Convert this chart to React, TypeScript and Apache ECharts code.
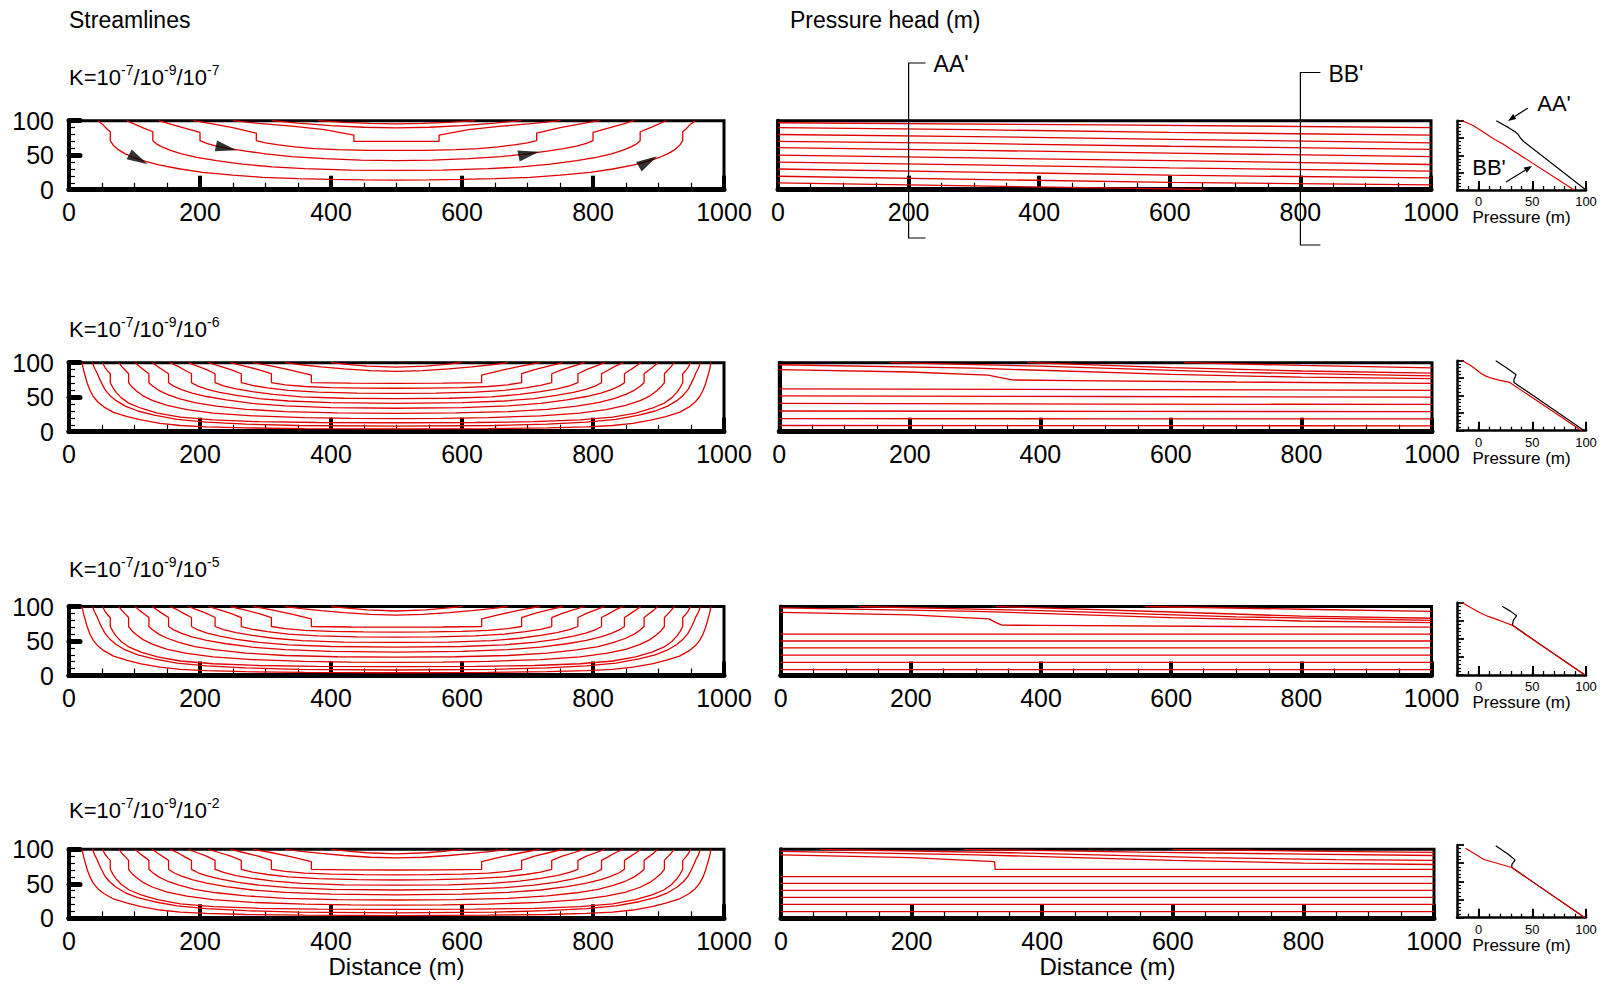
import React, { useEffect, useRef } from 'react';
import * as echarts from 'echarts';

const FONT = '"Liberation Sans", Arial, Helvetica, sans-serif';
const RED = '#e00000';

// ---------- axis ticks / labels ----------
const DIST_TICKS = [0, 200, 400, 600, 800, 1000];
const DEPTH_TICKS = [0, 50, 100];
const PROFILE_X_RANGE = [-20, 100];
const PROFILE_X_LABELS = [0, 50, 100];
const PROFILE_Y_TICKS = [0, 25, 50, 75, 100];
const K_EXPONENTS = [
  ['-7', '-9', '-7'],
  ['-7', '-9', '-6'],
  ['-7', '-9', '-5'],
  ['-7', '-9', '-2'],
];
const SECTION_X = [200, 800];
const SECTION_NAMES = ["AA'", "BB'"];

// ---------- streamlines, row 1 (K=1e-7/1e-9/1e-7) ----------
const STREAM_ROW1: number[][][] = [
  [[44,100],[52,94],[58,88],[63,84],[63,71],[68,64],[75,58],[86,52],[98,47],[117,41],[137,36],[170,30],[204,25],[250,21],[296,18],[350,16],[400,15],[450,14.3],[500,14],[550,14.3],[600,15],[650,16],[704,18],[750,21],[796,25],[830,30],[863,36],[883,41],[902,47],[914,52],[925,58],[932,64],[937,71],[937,84],[942,88],[948,94],[956,100]],
  [[88,100],[100,95],[115,89],[128,84],[128,71],[134,66],[142,62],[155,57],[172,52],[195,47],[225,42],[265,37],[310,33],[360,30.5],[430,28.5],[500,28],[570,28.5],[640,30.5],[690,33],[735,37],[775,42],[805,47],[828,52],[845,57],[858,62],[866,66],[872,71],[872,84],[885,89],[900,95],[912,100]],
  [[137,100],[155,95],[178,89],[200,83],[200,71],[210,67],[225,63],[245,59.5],[270,56],[300,52],[340,48],[390,45],[445,43],[500,42],[555,43],[610,45],[660,48],[700,52],[730,56],[755,59.5],[775,63],[790,67],[800,71],[800,83],[822,89],[845,95],[863,100]],
  [[190,100],[215,96],[250,90],[286,82],[286,71],[300,68],[320,65],[345,62],[375,59.5],[410,58],[455,57],[500,57],[545,57],[590,58],[625,59.5],[655,62],[680,65],[700,68],[714,71],[714,82],[750,90],[785,96],[810,100]],
  [[250,100],[290,96],[340,92],[390,87],[435,79],[435,70],[500,70],[565,70],[565,79],[610,87],[660,92],[710,96],[750,100]],
  [[310,100],[350,96.5],[400,93],[450,90.5],[500,89.5],[550,90.5],[600,93],[650,96.5],[690,100]],
  [[380,100],[420,97.5],[460,96],[500,95.5],[540,96],[580,97.5],[620,100]],
];

// flow direction arrows on row 1: [x, y, angle]
const ARROWS_ROW1 = [
  [106, 44, -28],
  [240, 60.4, -12],
  [702, 52, 12],
  [884, 41, 30],
];

// ---------- streamlines, rows 2-4 (identical at this scale) ----------
const STREAM_ROWS_234: number[][][] = [
  [[20,100],[22,90],[25,80],[28,70],[32,60],[37,51],[44,43],[53,36],[68,28],[89,22],[110,17],[139,12],[170,9],[210,7],[270,5.5],[360,4.5],[500,4],[640,4.5],[730,5.5],[790,7],[830,9],[861,12],[890,17],[911,22],[932,28],[947,36],[956,43],[963,51],[968,60],[972,70],[975,80],[978,90],[980,100]],
  [[36,100],[39,92],[43,85],[46,78],[50,70],[55,61],[62,53],[72,45],[86,37],[105,30],[130,24],[165,18],[210,14],[270,11],[350,9],[500,8],[650,9],[730,11],[790,14],[835,18],[870,24],[895,30],[914,37],[928,45],[938,53],[945,61],[950,70],[954,78],[957,85],[961,92],[964,100]],
  [[51,100],[55,93],[59,88],[63,84],[63,71],[67,64],[72,57],[80,49],[92,41],[110,34],[135,27],[170,21],[220,17],[290,14.5],[380,13.3],[500,13],[620,13.3],[710,14.5],[780,17],[830,21],[865,27],[890,34],[908,41],[920,49],[928,57],[933,64],[937,71],[937,84],[941,88],[945,93],[949,100]],
  [[76,100],[81,94],[86,89],[91,84],[91,71],[96,65],[103,59],[113,52],[128,45],[150,38],[180,32],[220,27],[280,23],[360,20.5],[430,19.4],[500,19],[570,19.4],[640,20.5],[720,23],[780,27],[820,32],[850,38],[872,45],[887,52],[897,59],[904,65],[909,71],[909,84],[914,89],[919,94],[924,100]],
  [[101,100],[108,94],[115,89],[122,84],[122,71],[128,66],[137,60],[150,54],[168,48],[192,42],[225,37],[270,32.5],[330,29],[410,27.2],[500,26.5],[590,27.2],[670,29],[730,32.5],[775,37],[808,42],[832,48],[850,54],[863,60],[872,66],[878,71],[878,84],[885,89],[892,94],[899,100]],
  [[127,100],[136,94],[144,89],[152,84],[152,71],[160,66],[172,61],[188,56],[210,51],[240,46],[280,41],[330,37.5],[400,35],[500,34],[600,35],[670,37.5],[720,41],[760,46],[790,51],[812,56],[828,61],[840,66],[848,71],[848,84],[856,89],[864,94],[873,100]],
  [[154,100],[166,95],[177,89],[187,84],[187,71],[197,66],[211,61.5],[230,57],[256,52.5],[290,48],[335,44.5],[400,42],[500,41],[600,42],[665,44.5],[710,48],[744,52.5],[770,57],[789,61.5],[803,66],[813,71],[813,84],[823,89],[834,95],[846,100]],
  [[182,100],[196,95],[210,90],[223,84],[223,71],[236,66.5],[255,62],[280,58],[312,54],[355,50.5],[420,48.5],[500,48],[580,48.5],[645,50.5],[688,54],[720,58],[745,62],[764,66.5],[777,71],[777,84],[790,90],[804,95],[818,100]],
  [[213,100],[230,95],[247,90],[263,84],[263,71],[280,67],[303,63.5],[335,60],[380,57.5],[440,56],[500,55.5],[560,56],[620,57.5],[665,60],[697,63.5],[720,67],[737,71],[737,84],[753,90],[770,95],[787,100]],
  [[246,100],[268,95],[289,90],[309,84],[309,71],[330,68],[360,65.5],[400,64],[450,63.2],[500,63],[550,63.2],[600,64],[640,65.5],[670,68],[691,71],[691,84],[711,90],[732,95],[754,100]],
  [[281,100],[310,95],[340,89],[370,82],[370,71],[430,70.3],[500,70],[570,70.3],[630,71],[630,82],[660,89],[690,95],[719,100]],
  [[330,100],[355,97],[385,94],[420,91],[460,88.5],[500,87.5],[540,88.5],[580,91],[615,94],[645,97],[670,100]],
  [[400,100],[425,97.5],[455,95],[500,93.5],[545,95],[575,97.5],[600,100]],
];

// ---------- pressure head contours ----------
const HEAD_ROW1: number[][][] = [
  [[0,97],[500,94],[1000,90]],
  [[0,90],[300,87],[600,83],[1000,79]],
  [[0,80],[300,77],[600,73],[1000,68]],
  [[0,70],[300,67],[600,63],[1000,58.5]],
  [[0,61],[300,57],[600,53],[1000,48]],
  [[0,50],[300,46],[600,42],[1000,36.5]],
  [[0,40],[300,36],[600,31.5],[1000,27]],
  [[0,30],[300,25.5],[600,21],[1000,17]],
  [[0,19.5],[300,15],[600,10.5],[1000,7]],
  [[0,10],[300,5.5],[500,2.5],[650,0.5]],
];
const HEAD_ROW2: number[][][] = [
  [[620,100],[800,96],[1000,92.5]],
  [[380,100],[600,93],[800,88],[1000,85]],
  [[170,100],[400,95],[700,86],[1000,81]],
  [[0,97],[300,92],[600,83],[800,79],[1000,77]],
  [[0,90],[200,86.5],[320,82],[335,79],[357,75],[450,74],[700,72],[1000,70]],
  [[0,62],[500,61],[1000,60]],
  [[0,52],[500,51],[1000,50]],
  [[0,41],[500,40],[1000,39.5]],
  [[0,30],[500,29.5],[1000,29]],
  [[0,19],[500,18.7],[1000,18.5]],
  [[0,9],[500,8.8],[1000,8.5]],
];
const HEAD_ROW3: number[][][] = [
  [[560,100],[800,96],[1000,93]],
  [[330,100],[600,92],[800,86],[1000,83]],
  [[120,100],[400,94],[700,85],[1000,80]],
  [[0,98],[300,93],[600,84],[800,79],[1000,76.5]],
  [[0,91.5],[200,88],[320,82],[330,77],[340,73],[400,72.5],[700,71],[1000,70]],
  [[0,60],[1000,60]],
  [[0,50],[1000,50]],
  [[0,40],[1000,40]],
  [[0,29.5],[1000,29.5]],
  [[0,19],[1000,19]],
  [[0,8.5],[1000,8.5]],
];
const HEAD_ROW4: number[][][] = [
  [[600,100],[800,97.5],[1000,95.6]],
  [[280,100],[550,96],[800,93],[1000,91]],
  [[60,100],[350,95],[650,88],[850,85],[1000,84]],
  [[0,97],[300,92],[600,84],[800,80],[1000,78]],
  [[0,92],[200,88],[327,82],[328,71],[1000,71]],
  [[0,60.4],[1000,60.4]],
  [[0,50.7],[1000,50.7]],
  [[0,40.6],[1000,40.6]],
  [[0,30.4],[1000,30.4]],
  [[0,20.3],[1000,20.3]],
  [[0,9.7],[1000,9.7]],
];

// ---------- vertical pressure profiles (pressure, elevation) ----------
const PROFILE_AA: number[][][] = [
  [[16.5,100],[28,90],[34,84],[37,80],[39,75],[42,70],[100,0]],
  [[16,100],[26,90],[35,80],[33,73],[33,69],[98.5,0]],
  [[22,95],[30,88],[35.5,82],[32.5,76],[31.5,69],[99,0]],
  [[16,99],[27,88],[34,79.5],[31,73],[31,69],[99,0]],
];
const PROFILE_BB: number[][][] = [
  [[-15,100],[-5,93],[3,85],[9,79],[15,73],[22,67],[89,0]],
  [[-15,100],[-8,94],[-2,87],[2,82],[7,78],[12,75],[20,72],[29,69],[96,0]],
  [[-15,100],[-7,93],[1.5,86],[9,81],[17,77],[24,73],[31,69],[99,0]],
  [[-12,95.5],[5,80],[31,69],[99,0]],
];

const STREAMS = [STREAM_ROW1, STREAM_ROWS_234, STREAM_ROWS_234, STREAM_ROWS_234];
const HEADS = [HEAD_ROW1, HEAD_ROW2, HEAD_ROW3, HEAD_ROW4];

// ---------- layout (pixels) ----------
const ROW_TOP = [120.7, 362.7, 606.5, 849.3];
const ROW_H = 69;
const K_Y = [77, 329, 569, 810];
const S_LEFT = 69;
const S_W = 655;
const P_LEFT = [778, 779.3, 780.7, 781];
const P_W = [653, 652.7, 650.8, 653];
const M_LEFT = 1457;
const M_W = 129;
const M_TOP = [120.7, 360.7, 602.7, 845];
const M_H = [69.3, 70, 72.3, 72.7];

function distAxis(gridIndex: number, withName: boolean) {
  return {
    gridIndex,
    type: 'value',
    min: DIST_TICKS[0],
    max: DIST_TICKS[DIST_TICKS.length - 1],
    interval: DIST_TICKS[1] - DIST_TICKS[0],
    position: 'bottom',
    axisLine: { show: true, onZero: false, lineStyle: { color: '#000', width: 5 } },
    axisTick: { show: true, inside: true, length: 14, lineStyle: { color: '#000', width: 4 } },
    minorTick: { show: true, splitNumber: 4, length: 7, lineStyle: { color: '#000', width: 1.2 } },
    splitLine: { show: false },
    minorSplitLine: { show: false },
    axisLabel: {
      show: true,
      margin: 10,
      fontSize: 25,
      color: '#000',
      fontFamily: FONT,
      formatter: (v: number) => String(v),
    },
    name: withName ? 'Distance (m)' : '',
    nameLocation: 'middle',
    nameGap: 35,
    nameTextStyle: { fontSize: 24, color: '#000', fontFamily: FONT },
  };
}

function depthAxis(gridIndex: number, labelled: boolean) {
  return {
    gridIndex,
    type: 'value',
    min: DEPTH_TICKS[0],
    max: DEPTH_TICKS[DEPTH_TICKS.length - 1],
    interval: DEPTH_TICKS[1] - DEPTH_TICKS[0],
    axisLine: { show: true, onZero: false, lineStyle: { color: '#000', width: 4 } },
    axisTick: { show: labelled, inside: true, length: 11, lineStyle: { color: '#000', width: 5, cap: 'round' } },
    minorTick: { show: labelled, splitNumber: 5, length: 6, lineStyle: { color: '#000', width: 1.2 } },
    splitLine: { show: false },
    minorSplitLine: { show: false },
    axisLabel: {
      show: labelled,
      margin: 15,
      fontSize: 25,
      color: '#000',
      fontFamily: FONT,
      formatter: (v: number) => String(v),
    },
  };
}

function lineSeries(xi: number, yi: number, data: number[][], color: string, width = 1.3) {
  return {
    type: 'line',
    xAxisIndex: xi,
    yAxisIndex: yi,
    data,
    showSymbol: false,
    symbol: 'none',
    silent: true,
    animation: false,
    lineStyle: { color, width },
    z: 2,
  };
}

function buildOption() {
  const grid: any[] = [];
  const xAxis: any[] = [];
  const yAxis: any[] = [];
  const series: any[] = [];
  const graphic: any[] = [];

  for (let r = 0; r < 4; r++) {
    const last = r === 3;
    // streamline panel
    grid.push({ left: S_LEFT, top: ROW_TOP[r], width: S_W, height: ROW_H, show: true, borderColor: '#000', borderWidth: 3, outerBoundsMode: 'none' });
    const gS = grid.length - 1;
    xAxis.push(distAxis(gS, last));
    const xS = xAxis.length - 1;
    yAxis.push(depthAxis(gS, true));
    const yS = yAxis.length - 1;
    STREAMS[r].forEach((ln) => series.push(lineSeries(xS, yS, ln, RED)));
    if (r === 0) {
      series.push({
        type: 'scatter',
        xAxisIndex: xS,
        yAxisIndex: yS,
        symbol: 'path://M0,0L24,6L0,12Z',
        symbolSize: [21, 11],
        itemStyle: { color: '#000' },
        silent: true,
        z: 5,
        data: ARROWS_ROW1.map((a) => ({ value: [a[0], a[1]], symbolRotate: a[2] })),
      });
    }

    // pressure head panel
    grid.push({ left: P_LEFT[r], top: ROW_TOP[r], width: P_W[r], height: ROW_H, show: true, borderColor: '#000', borderWidth: 3, outerBoundsMode: 'none' });
    const gP = grid.length - 1;
    xAxis.push(distAxis(gP, last));
    const xP = xAxis.length - 1;
    yAxis.push(depthAxis(gP, false));
    const yP = yAxis.length - 1;
    HEADS[r].forEach((ln) => series.push(lineSeries(xP, yP, ln, RED)));

    // pressure profile panel
    grid.push({ left: M_LEFT, top: M_TOP[r], width: M_W, height: M_H[r], show: false, outerBoundsMode: 'none' });
    const gM = grid.length - 1;
    xAxis.push({
      gridIndex: gM,
      type: 'value',
      min: PROFILE_X_RANGE[0],
      max: PROFILE_X_RANGE[1],
      interval: 10,
      position: 'bottom',
      axisLine: { show: true, onZero: false, lineStyle: { color: '#000', width: 2.5 } },
      axisTick: { show: true, inside: true, length: 4, lineStyle: { color: '#000', width: 1.3 } },
      splitLine: { show: false },
      axisLabel: {
        show: true,
        margin: 5,
        fontSize: 13,
        color: '#000',
        fontFamily: FONT,
        formatter: (v: number) => (PROFILE_X_LABELS.indexOf(v) >= 0 ? String(v) : ''),
      },
      name: 'Pressure (m)',
      nameLocation: 'middle',
      nameGap: 19,
      nameTextStyle: { fontSize: 17, color: '#000', fontFamily: FONT },
    });
    const xM = xAxis.length - 1;
    xAxis.push({
      gridIndex: gM,
      type: 'value',
      min: PROFILE_X_RANGE[0],
      max: PROFILE_X_RANGE[1],
      position: 'bottom',
      axisLine: { show: false, onZero: false },
      axisTick: { show: true, inside: true, length: 9, customValues: PROFILE_X_LABELS, lineStyle: { color: '#000', width: 2 } },
      axisLabel: { show: false },
      splitLine: { show: false },
    });
    yAxis.push({
      gridIndex: gM,
      type: 'value',
      min: PROFILE_Y_TICKS[0],
      max: PROFILE_Y_TICKS[PROFILE_Y_TICKS.length - 1],
      interval: PROFILE_Y_TICKS[1] - PROFILE_Y_TICKS[0],
      axisLine: { show: true, onZero: false, lineStyle: { color: '#000', width: 2.5 } },
      axisTick: { show: true, inside: true, length: 7, lineStyle: { color: '#000', width: 1.8 } },
      minorTick: { show: true, splitNumber: 5, length: 4, lineStyle: { color: '#000', width: 1.2 } },
      splitLine: { show: false },
      axisLabel: { show: false },
    });
    const yM = yAxis.length - 1;
    series.push(lineSeries(xM, yM, PROFILE_AA[r], '#000', 1.2));
    series.push(lineSeries(xM, yM, PROFILE_BB[r], RED, 1.2));

    // K label
    const ex = K_EXPONENTS[r];
    graphic.push({
      type: 'text',
      x: 69,
      y: K_Y[r],
      silent: true,
      style: {
        text: `K=10{s|${ex[0]}}/10{s|${ex[1]}}/10{s|${ex[2]}}`,
        fontSize: 22,
        fontFamily: FONT,
        fill: '#000',
        lineHeight: 28,
        verticalAlign: 'middle',
        rich: { s: { fontSize: 14, lineHeight: 14, verticalAlign: 'top', fontFamily: FONT, fill: '#000' } },
      },
    });
  }

  // titles
  graphic.push({ type: 'text', x: 69, y: 19.5, silent: true, style: { text: 'Streamlines', fontSize: 23, fontFamily: FONT, fill: '#000', verticalAlign: 'middle' } });
  graphic.push({ type: 'text', x: 790, y: 19.5, silent: true, style: { text: 'Pressure head (m)', fontSize: 23, fontFamily: FONT, fill: '#000', verticalAlign: 'middle' } });

  // section markers AA' and BB'
  const secTop = [63, 72.5];
  const secBot = [238, 245];
  const secTick = [17, 20];
  const labelY = [64, 74];
  SECTION_X.forEach((sx, i) => {
    const px = P_LEFT[0] + (P_W[0] * sx) / DIST_TICKS[DIST_TICKS.length - 1];
    graphic.push({
      type: 'polyline',
      silent: true,
      z: 10,
      shape: { points: [[px + secTick[i], secTop[i]], [px, secTop[i]], [px, secBot[i]], [px + secTick[i], secBot[i]]] },
      style: { stroke: '#000', lineWidth: 1.2, fill: null },
    });
    graphic.push({
      type: 'text',
      x: px + secTick[i] + 8,
      y: labelY[i],
      silent: true,
      style: { text: SECTION_NAMES[i], fontSize: 23, fontFamily: FONT, fill: '#000', verticalAlign: 'middle' },
    });
  });

  // profile annotations
  graphic.push({ type: 'text', x: 1554, y: 103, silent: true, style: { text: SECTION_NAMES[0], fontSize: 22, fontFamily: FONT, fill: '#000', align: 'center', verticalAlign: 'middle' } });
  graphic.push({ type: 'line', silent: true, z: 10, shape: { x1: 1528, y1: 108, x2: 1514.7, y2: 116.6 }, style: { stroke: '#000', lineWidth: 1.2 } });
  graphic.push({ type: 'polygon', silent: true, z: 10, shape: { points: [[1508, 121], [1513.1, 114.1], [1516.3, 119.1]] }, style: { fill: '#000' } });
  graphic.push({ type: 'text', x: 1489, y: 167, silent: true, style: { text: SECTION_NAMES[1], fontSize: 22, fontFamily: FONT, fill: '#000', align: 'center', verticalAlign: 'middle' } });
  graphic.push({ type: 'line', silent: true, z: 10, shape: { x1: 1506, y1: 182, x2: 1525.2, y2: 170.2 }, style: { stroke: '#000', lineWidth: 1.2 } });
  graphic.push({ type: 'polygon', silent: true, z: 10, shape: { points: [[1532, 166], [1526.8, 172.8], [1523.6, 167.6]] }, style: { fill: '#000' } });

  return {
    animation: false,
    backgroundColor: '#fff',
    textStyle: { fontFamily: FONT },
    grid,
    xAxis,
    yAxis,
    series,
    graphic,
  };
}

export default function App() {
  const ref = useRef<HTMLDivElement>(null);
  useEffect(() => {
    if (!ref.current) return;
    const chart = echarts.init(ref.current, undefined, { renderer: 'svg' });
    chart.setOption(buildOption() as any);
    return () => chart.dispose();
  }, []);
  return (
    <div
      ref={ref}
      style={{ position: 'fixed', left: 0, top: 0, width: 1602, height: 985, background: '#fff' }}
    />
  );
}
